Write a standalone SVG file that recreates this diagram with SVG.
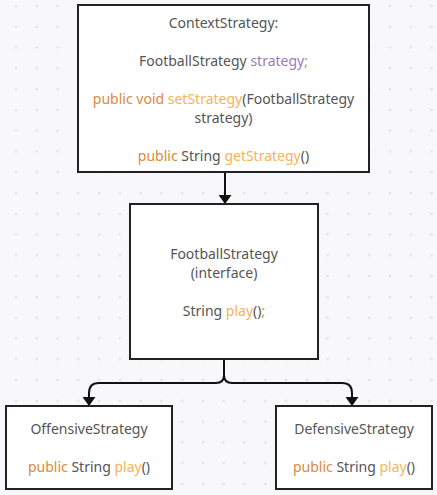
<svg xmlns="http://www.w3.org/2000/svg" width="437" height="495" viewBox="0 0 437 495">
  <defs>
    <pattern id="dots" x="16" y="6" width="20.78" height="20.78" patternUnits="userSpaceOnUse">
      <circle cx="0" cy="0" r="1.3" fill="#e2e2e6"/>
      <circle cx="20.78" cy="0" r="1.3" fill="#e2e2e6"/>
      <circle cx="0" cy="20.78" r="1.3" fill="#e2e2e6"/>
      <circle cx="20.78" cy="20.78" r="1.3" fill="#e2e2e6"/>
    </pattern>
    <marker id="arrow" viewBox="0 0 9 13" refX="9" refY="6.5" markerWidth="9" markerHeight="13" markerUnits="userSpaceOnUse" orient="auto">
      <path d="M0,0 L9,6.5 L0,13 z" fill="#111"/>
    </marker>
    <style>
      .box { fill: #ffffff; stroke: #222; stroke-width: 2; }
      .t { font-family: "Noto Sans", "Open Sans", sans-serif; font-size: 14px; fill: #555; text-anchor: middle; }
      .kw { fill: #d98a3d; }
      .fn { fill: #f7b457; }
      .var { fill: #9d7bb3; }
      .edge { fill: none; stroke: #111; stroke-width: 2; }
    </style>
  </defs>
  <rect width="437" height="495" fill="#f8f8fa"/>
  <rect width="437" height="495" fill="url(#dots)"/>

  <g id="connectors">
    <path class="edge" d="M225,172 L225,204" marker-end="url(#arrow)"/>
    <path class="edge" d="M224,359 L224,375 Q224,383 216,383 L99,383 Q89,383 89,393 L89,406" marker-end="url(#arrow)"/>
    <path class="edge" d="M224,359 L224,375 Q224,383 232,383 L342,383 Q352,383 352,393 L352,406" marker-end="url(#arrow)"/>
  </g>

  <g id="ContextStrategy">
    <rect class="box" x="78" y="5" width="291" height="167"/>
    <text class="t" x="223.5" y="28">ContextStrategy:</text>
    <text class="t" x="223.5" y="66">FootballStrategy <tspan class="var">strategy</tspan><tspan class="kw">;</tspan></text>
    <text class="t" x="223.5" y="104"><tspan class="kw">public void </tspan><tspan class="fn">setStrategy</tspan>(FootballStrategy</text>
    <text class="t" x="223.5" y="123">strategy)</text>
    <text class="t" x="223.5" y="161"><tspan class="kw">public</tspan> String <tspan class="fn">getStrategy</tspan>()</text>
  </g>

  <g id="FootballStrategy">
    <rect class="box" x="130" y="204" width="188" height="155"/>
    <text class="t" x="224" y="259">FootballStrategy</text>
    <text class="t" x="224" y="278">(interface)</text>
    <text class="t" x="224" y="316">String <tspan class="fn">play</tspan>()<tspan class="kw">;</tspan></text>
  </g>

  <g id="OffensiveStrategy">
    <rect class="box" x="6" y="406" width="166" height="83"/>
    <text class="t" x="89" y="434">OffensiveStrategy</text>
    <text class="t" x="89" y="472"><tspan class="kw">public</tspan> String <tspan class="fn">play</tspan>()</text>
  </g>

  <g id="DefensiveStrategy">
    <rect class="box" x="276" y="406" width="156" height="83"/>
    <text class="t" x="354" y="434">DefensiveStrategy</text>
    <text class="t" x="354" y="472"><tspan class="kw">public</tspan> String <tspan class="fn">play</tspan>()</text>
  </g>
</svg>
